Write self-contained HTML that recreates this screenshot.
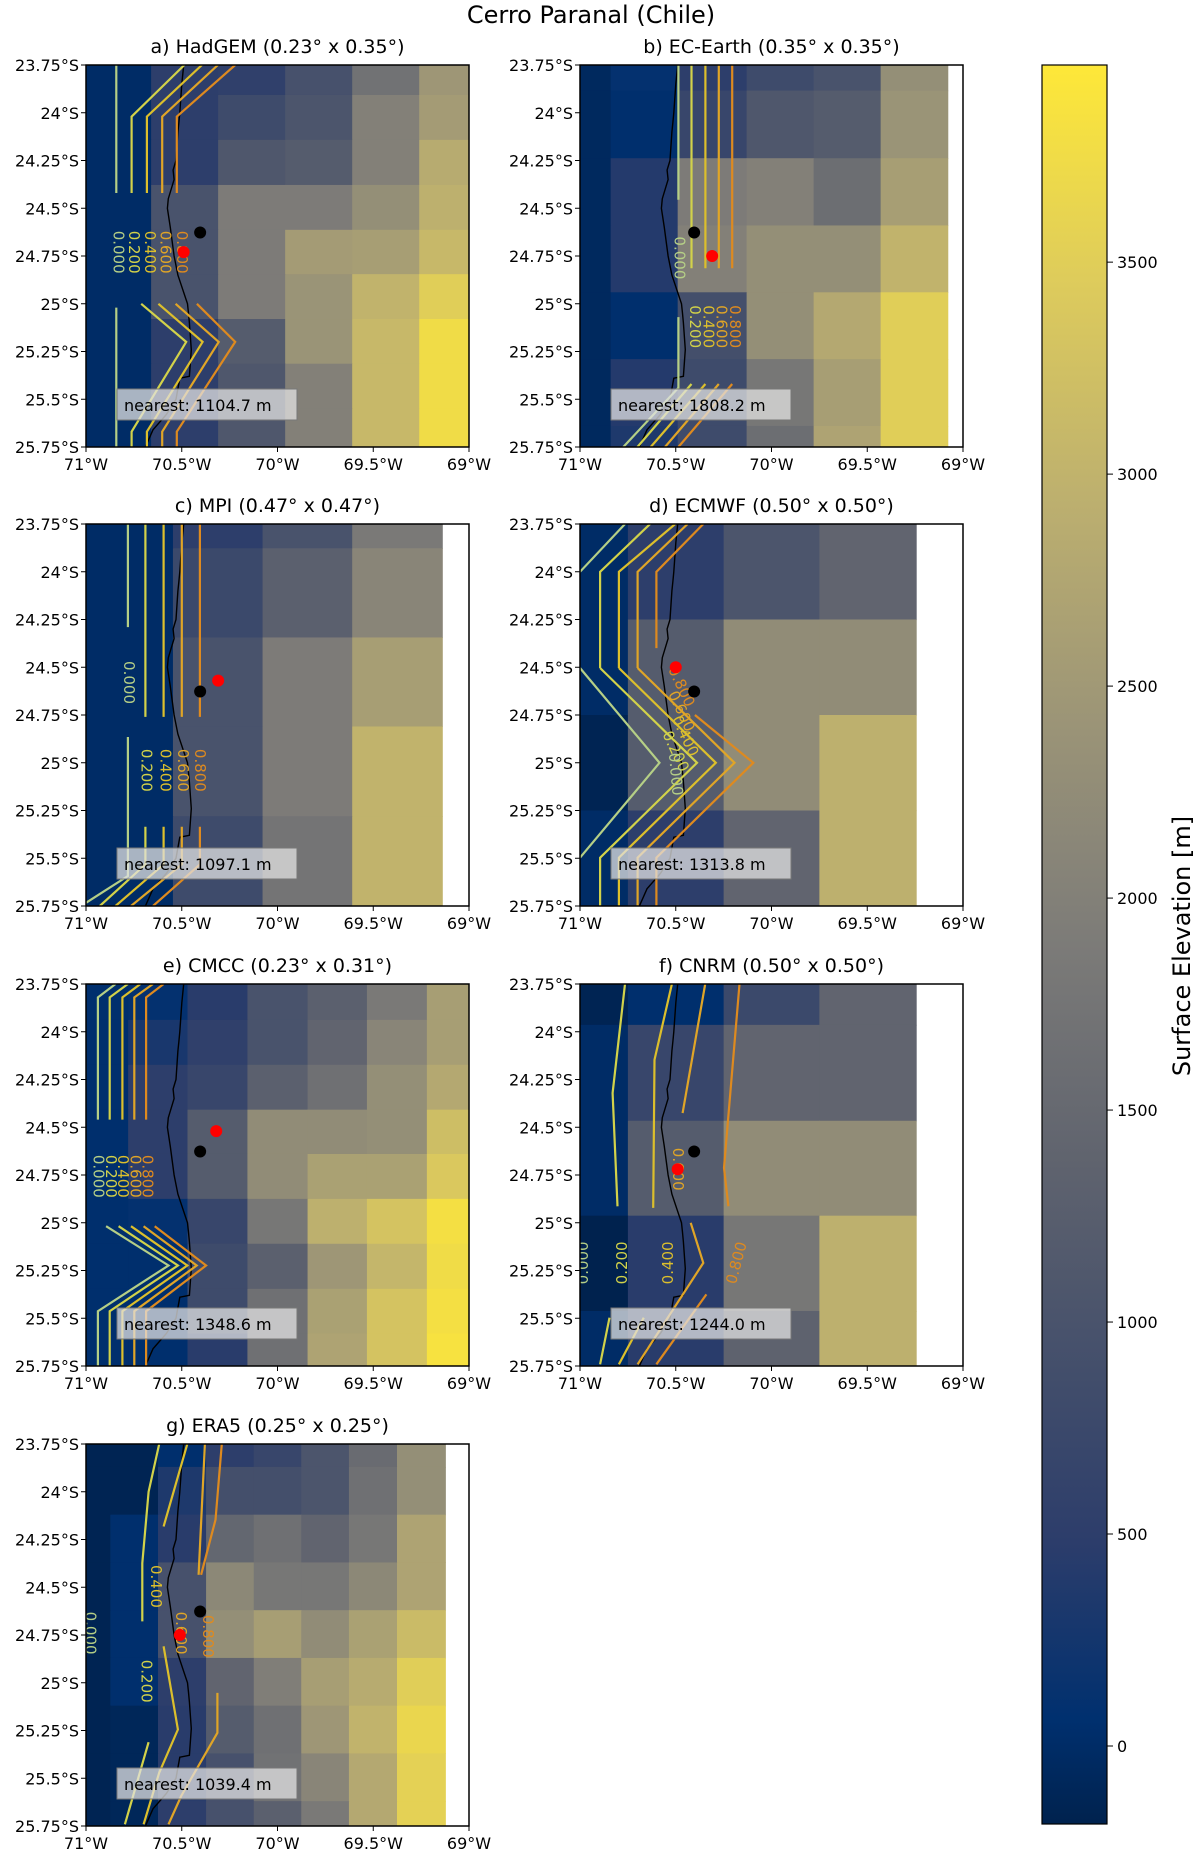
<!DOCTYPE html>
<html><head><meta charset="utf-8"><style>
html,body{margin:0;padding:0;background:#fff;}
svg{display:block;font-family:"DejaVu Sans","Liberation Sans",sans-serif;}
</style></head><body>
<svg id="fig" width="1200" height="1856" viewBox="0 0 1200 1856" xmlns="http://www.w3.org/2000/svg">
<defs>
<linearGradient id="cbgrad" x1="0" y1="1" x2="0" y2="0"></linearGradient>
</defs>
<text x="591" y="23" text-anchor="middle" font-size="24" fill="#000">Cerro Paranal (Chile)</text>
</svg>
<script>
// ---------- data ----------
const vmin = -184, vmax = 3965;
const cbTicks = [0, 500, 1000, 1500, 2000, 2500, 3000, 3500];
const xTickVals = [-71, -70.5, -70, -69.5, -69];
const xTickLabels = ["71°W", "70.5°W", "70°W", "69.5°W", "69°W"];
const yTickVals = [-23.75, -24, -24.25, -24.5, -24.75, -25, -25.25, -25.5, -25.75];
const yTickLabels = ["23.75°S", "24°S", "24.25°S", "24.5°S", "24.75°S", "25°S", "25.25°S", "25.5°S", "25.75°S"];
const levelNames = ["0.000", "0.200", "0.400", "0.600", "0.800"];
const site = [-70.404, -24.627];
const coast = [[-70.49,-23.75],[-70.50,-23.85],[-70.51,-24.0],[-70.515,-24.05],[-70.52,-24.1],[-70.53,-24.25],[-70.545,-24.3],[-70.54,-24.35],[-70.57,-24.45],[-70.575,-24.5],[-70.56,-24.6],[-70.54,-24.75],[-70.52,-24.85],[-70.47,-25.0],[-70.465,-25.05],[-70.46,-25.1],[-70.45,-25.24],[-70.46,-25.38],[-70.51,-25.39],[-70.53,-25.5],[-70.58,-25.58],[-70.65,-25.66],[-70.69,-25.75]];

// a) HadGEM
const aLon = [-71,-70.66,-70.31,-69.96,-69.61,-69.26,-69];
const aLat = [-23.75,-23.907,-24.142,-24.378,-24.613,-24.845,-25.08,-25.314,-25.55,-25.75];
const aElev = [
 [0,500,550,950,1700,2450],[0,500,800,1050,2000,2550],[0,500,1100,1200,2000,2850],
 [0,1000,1900,1900,2300,2950],[0,1000,1900,2550,2600,3100],[0,1000,1900,2400,3000,3500],
 [0,500,1200,2400,3100,3750],[0,500,1100,2000,3100,3750],[0,500,1100,2000,3100,3750]];
const aRed = [-70.49,-24.73];
const aNearest = "nearest: 1104.7 m";
const aContours = [
 [0,[[-70.842,-23.75],[-70.842,-24.42]]],[1,[[-70.762,-24.42],[-70.762,-24.02],[-70.486,-23.75]]],
 [2,[[-70.682,-24.42],[-70.682,-24.02],[-70.395,-23.75]]],[3,[[-70.602,-24.42],[-70.602,-24.02],[-70.311,-23.75]]],
 [4,[[-70.526,-24.42],[-70.526,-24.02],[-70.221,-23.75]]],
 [0,[[-70.842,-25.02],[-70.842,-25.75]]],[1,[[-70.712,-25.0],[-70.477,-25.2],[-70.762,-25.67],[-70.762,-25.75]]],
 [2,[[-70.622,-25.0],[-70.391,-25.2],[-70.682,-25.67],[-70.682,-25.75]]],[3,[[-70.532,-25.0],[-70.307,-25.2],[-70.602,-25.67],[-70.602,-25.75]]],
 [4,[[-70.421,-25.0],[-70.221,-25.2],[-70.526,-25.67],[-70.526,-25.75]]]];
const aLabels = [[0,-70.83,-24.73,90],[1,-70.75,-24.73,90],[2,-70.665,-24.73,90],[3,-70.585,-24.73,90],[4,-70.50,-24.73,90]];

// b) EC-Earth
const bLon = [-71,-70.84,-70.49,-70.13,-69.78,-69.43,-69.08];
const bLat = [-23.75,-23.884,-24.238,-24.59,-24.94,-25.29,-25.64,-25.75];
const bElev = [
 [-60,100,500,800,1000,2300],[-60,50,700,1100,1200,2400],[-60,400,1900,2000,1600,2600],
 [-60,400,2000,2300,2300,3000],[-60,50,900,2300,2800,3500],[-60,400,800,1800,2600,3500],[-60,350,800,1600,2700,3500]];
const bRed = [-70.31,-24.75];
const bNearest = "nearest: 1808.2 m";
const bContours = [
 [0,[[-70.486,-23.75],[-70.486,-24.456]]],[1,[[-70.418,-23.75],[-70.418,-24.814]]],
 [2,[[-70.345,-23.75],[-70.345,-24.814]]],[3,[[-70.275,-23.75],[-70.275,-24.814]]],[4,[[-70.205,-23.75],[-70.205,-24.814]]],
 [0,[[-70.486,-25.07],[-70.486,-25.44],[-70.774,-25.75]]],[1,[[-70.418,-25.42],[-70.70,-25.75]]],
 [2,[[-70.345,-25.42],[-70.631,-25.75]]],[3,[[-70.275,-25.42],[-70.556,-25.75]]],[4,[[-70.205,-25.42],[-70.486,-25.75]]]];
const bLabels = [[0,-70.48,-24.76,90],[1,-70.40,-25.12,90],[2,-70.33,-25.12,90],[3,-70.26,-25.12,90],[4,-70.19,-25.12,90]];

// c) MPI
const cLon = [-71,-70.546,-70.078,-69.61,-69.14];
const cLat = [-23.75,-23.877,-24.344,-24.81,-25.28,-25.75];
const cElev = [[0,500,1000,1850],[0,750,1300,2100],[0,1000,1900,2600],[0,1000,1900,3000],[0,800,1750,3000]];
const cRed = [-70.31,-24.57];
const cNearest = "nearest: 1097.1 m";
const cContours = [
 [0,[[-70.781,-23.75],[-70.781,-24.29]]],[1,[[-70.69,-23.75],[-70.69,-24.76]]],[2,[[-70.595,-23.75],[-70.595,-24.76]]],
 [3,[[-70.5,-23.75],[-70.5,-24.76]]],[4,[[-70.405,-23.75],[-70.405,-24.76]]],
 [0,[[-70.781,-24.865],[-70.781,-25.593],[-71,-25.733]]],[1,[[-70.69,-25.335],[-70.69,-25.532],[-70.928,-25.75]]],
 [2,[[-70.595,-25.335],[-70.595,-25.532],[-70.846,-25.75]]],[3,[[-70.5,-25.335],[-70.5,-25.532],[-70.765,-25.75]]],
 [4,[[-70.405,-25.335],[-70.405,-25.532],[-70.65,-25.75]]]];
const cLabels = [[0,-70.775,-24.58,90],[1,-70.683,-25.04,90],[2,-70.585,-25.04,90],[3,-70.493,-25.04,90],[4,-70.405,-25.04,90]];

// d) ECMWF
const dLon = [-71,-70.75,-70.25,-69.75,-69.245];
const dLat = [-23.75,-24.25,-24.75,-25.25,-25.75];
const dElev = [[0,500,1050,1400],[0,1200,2250,2250],[-150,1200,2250,2950],[0,500,1400,2950]];
const dRed = [-70.50,-24.50];
const dNearest = "nearest: 1313.8 m";
const dContours = [
 [0,[[-71,-24.0],[-70.765,-23.75]]],[1,[[-70.895,-24.504],[-70.895,-24.0],[-70.634,-23.75]]],
 [2,[[-70.797,-24.504],[-70.797,-24.0],[-70.503,-23.75]]],[3,[[-70.699,-24.504],[-70.699,-24.0],[-70.438,-23.75]]],
 [4,[[-70.601,-24.40],[-70.601,-24.0],[-70.356,-23.75]]],
 [0,[[-71,-24.504],[-70.585,-25.0],[-71,-25.497]]],[1,[[-70.895,-24.504],[-70.389,-25.0],[-70.895,-25.497],[-70.895,-25.75]]],
 [2,[[-70.797,-24.504],[-70.291,-25.0],[-70.797,-25.497],[-70.797,-25.75]]],[3,[[-70.699,-24.504],[-70.193,-25.0],[-70.699,-25.497],[-70.699,-25.75]]],
 [4,[[-70.40,-24.75],[-70.095,-25.0],[-70.601,-25.497],[-70.601,-25.75]]]];
const dLabels = [[4,-70.47,-24.6,65],[3,-70.47,-24.73,65],[2,-70.45,-24.86,65],[1,-70.50,-24.94,65],[0,-70.50,-25.06,85]];

// e) CMCC
const eLon = [-71,-70.78,-70.47,-70.157,-69.843,-69.533,-69.22,-69];
const eLat = [-23.75,-23.938,-24.173,-24.408,-24.64,-24.875,-25.11,-25.346,-25.58,-25.75];
const eElev = [
 [50,100,450,1000,1300,1850,2600],[50,300,550,1000,1400,2100,2600],[50,500,700,1300,1650,2300,2800],
 [50,500,1200,2250,2250,2300,3200],[50,500,1200,2250,2650,2650,3400],[50,100,700,1800,2950,3300,3800],
 [50,50,800,1300,2450,3050,3750],[50,50,800,1650,2650,3300,3800],[50,50,450,1650,2700,3300,3850]];
const eRed = [-70.32,-24.52];
const eNearest = "nearest: 1348.6 m";
const eContours = [
 [0,[[-70.938,-24.46],[-70.938,-23.82],[-70.846,-23.75]]],[1,[[-70.876,-24.46],[-70.876,-23.82],[-70.781,-23.75]]],
 [2,[[-70.81,-24.46],[-70.81,-23.82],[-70.716,-23.75]]],[3,[[-70.748,-24.46],[-70.748,-23.82],[-70.65,-23.75]]],
 [4,[[-70.686,-24.46],[-70.686,-23.82],[-70.595,-23.75]]],
 [0,[[-70.895,-25.018],[-70.569,-25.224],[-70.938,-25.463],[-70.938,-25.75]]],[1,[[-70.83,-25.018],[-70.52,-25.224],[-70.876,-25.463],[-70.876,-25.75]]],
 [2,[[-70.765,-25.018],[-70.471,-25.224],[-70.81,-25.463],[-70.81,-25.75]]],[3,[[-70.699,-25.018],[-70.422,-25.224],[-70.748,-25.463],[-70.748,-25.75]]],
 [4,[[-70.641,-25.018],[-70.373,-25.224],[-70.686,-25.463],[-70.686,-25.75]]]];
const eLabels = [[0,-70.935,-24.757,90],[1,-70.87,-24.757,90],[2,-70.807,-24.757,90],[3,-70.742,-24.757,90],[4,-70.68,-24.757,90]];

// f) CNRM
const fLon = [-71,-70.75,-70.25,-69.75,-69.245];
const fLat = [-23.75,-23.964,-24.466,-24.963,-25.462,-25.75];
const fElev = [[-150,50,750,1400],[0,700,1400,1400],[0,1200,2250,2250],[-200,450,1800,2950],[0,450,1350,2950]];
const fRed = [-70.49,-24.72];
const fNearest = "nearest: 1244.0 m";
const fContours = [
 [1,[[-70.765,-23.75],[-70.83,-24.321],[-70.804,-24.914]]],[2,[[-70.52,-23.75],[-70.611,-24.147],[-70.618,-24.922]]],
 [3,[[-70.346,-23.75],[-70.464,-24.426]]],[4,[[-70.167,-23.75],[-70.248,-24.713],[-70.225,-24.914]]],
 [1,[[-70.846,-25.497],[-70.895,-25.741]]],[2,[[-70.667,-25.497],[-70.797,-25.741]]],
 [3,[[-70.422,-25.0],[-70.356,-25.21],[-70.699,-25.741]]],[4,[[-70.34,-25.375],[-70.601,-25.741]]]];
const fLabels = [[0,-70.985,-25.21,-90],[1,-70.78,-25.21,-90],[2,-70.54,-25.21,-90],[4,-70.183,-25.21,-75],[3,-70.487,-24.72,90]];

// g) ERA5
const gLon = [-71,-70.873,-70.624,-70.373,-70.124,-69.876,-69.627,-69.376,-69.124];
const gLat = [-23.75,-23.87,-24.12,-24.37,-24.62,-24.87,-25.12,-25.37,-25.62,-25.75];
const gElev = [
 [-150,-150,50,500,700,1050,1550,2300],[-150,-150,350,900,900,1050,1650,2300],[-150,50,450,1450,1650,1400,1800,2700],
 [-150,50,950,2150,1800,1800,2150,2700],[-150,50,950,2300,2600,2250,2650,3150],[-150,50,500,1400,1950,2600,2850,3500],
 [-150,-100,450,1200,1650,2450,3000,3650],[-150,-100,450,950,1700,2100,2800,3550],[-150,-100,500,950,1300,1850,2800,3550]];
const gRed = [-70.51,-24.75];
const gNearest = "nearest: 1039.4 m";
const gContours = [
 [1,[[-70.618,-23.75],[-70.673,-24.0],[-70.706,-24.374],[-70.706,-24.679]]],[1,[[-70.673,-25.311],[-70.797,-25.741]]],
 [2,[[-70.471,-23.75],[-70.595,-24.182]]],[2,[[-70.595,-24.809],[-70.52,-25.245],[-70.618,-25.471],[-70.699,-25.741]]],
 [3,[[-70.379,-23.75],[-70.412,-24.435]]],[3,[[-70.314,-25.053],[-70.314,-25.262],[-70.503,-25.593],[-70.569,-25.741]]],
 [4,[[-70.291,-23.75],[-70.324,-24.147],[-70.399,-24.435]]]];
const gLabels = [[2,-70.634,-24.496,90],[1,-70.683,-24.992,90],[3,-70.503,-24.74,90],[4,-70.363,-24.757,90],[0,-70.977,-24.74,90]];

// ---------- rendering ----------
const levelColors = ["#b5cf86","#d2d24a","#dcbf2c","#e0a527","#de8a1f"];
const cmapStops = [[0,0,34,78],[0.06,0,48,111],[0.16,44,61,107],[0.25,65,77,107],[0.375,95,99,110],[0.5,124,123,120],[0.625,155,148,119],[0.75,188,175,111],[0.875,221,203,92],[1,254,232,56]];
function cmap(v){
  let t=(v-vmin)/(vmax-vmin); t=Math.max(0,Math.min(1,t));
  for(let i=1;i<cmapStops.length;i++){
    const a=cmapStops[i-1], b=cmapStops[i];
    if(t<=b[0]){const f=(t-a[0])/(b[0]-a[0]);
      return `rgb(${Math.round(a[1]+f*(b[1]-a[1]))},${Math.round(a[2]+f*(b[2]-a[2]))},${Math.round(a[3]+f*(b[3]-a[3]))})`;}
  }
  return "rgb(254,232,56)";
}
const NS="http://www.w3.org/2000/svg";
const svg=document.getElementById("fig");
function el(tag,attrs,parent){const e=document.createElementNS(NS,tag);for(const k in attrs)e.setAttribute(k,attrs[k]);(parent||svg).appendChild(e);return e;}

const panels=[
 {id:"a",title:"a) HadGEM (0.23° x 0.35°)",L:86,T:65,lon:aLon,lat:aLat,elev:aElev,red:aRed,near:aNearest,cont:aContours,labs:aLabels},
 {id:"b",title:"b) EC-Earth (0.35° x 0.35°)",L:580,T:65,lon:bLon,lat:bLat,elev:bElev,red:bRed,near:bNearest,cont:bContours,labs:bLabels},
 {id:"c",title:"c) MPI (0.47° x 0.47°)",L:86,T:524,lon:cLon,lat:cLat,elev:cElev,red:cRed,near:cNearest,cont:cContours,labs:cLabels},
 {id:"d",title:"d) ECMWF (0.50° x 0.50°)",L:580,T:524,lon:dLon,lat:dLat,elev:dElev,red:dRed,near:dNearest,cont:dContours,labs:dLabels},
 {id:"e",title:"e) CMCC (0.23° x 0.31°)",L:86,T:984,lon:eLon,lat:eLat,elev:eElev,red:eRed,near:eNearest,cont:eContours,labs:eLabels},
 {id:"f",title:"f) CNRM (0.50° x 0.50°)",L:580,T:984,lon:fLon,lat:fLat,elev:fElev,red:fRed,near:fNearest,cont:fContours,labs:fLabels},
 {id:"g",title:"g) ERA5 (0.25° x 0.25°)",L:86,T:1444,lon:gLon,lat:gLat,elev:gElev,red:gRed,near:gNearest,cont:gContours,labs:gLabels}];
const W=383,H=382;
const defs=svg.querySelector("defs");

panels.forEach(p=>{
  const X=lon=>p.L+(lon+71)/2*W;
  const Y=lat=>p.T+(-23.75-lat)/2*H;
  const g=el("g",{});
  
  
  const cp=el("clipPath",{id:"clip"+p.id},defs);
  el("rect",{x:p.L,y:p.T,width:W,height:H},cp);
  const t=el("text",{x:p.L+W/2,y:p.T-12,"text-anchor":"middle","font-size":"19",fill:"#000"},g);
  t.textContent=p.title;
  
  
  const body=el("g",{"clip-path":`url(#clip${p.id})`},g);
  for(let r=0;r<p.elev.length;r++){
    for(let c=0;c<p.elev[r].length;c++){
      const x0=X(p.lon[c]),x1=X(p.lon[c+1]),y0=Y(p.lat[r]),y1=Y(p.lat[r+1]);
      const rc=el("rect",{x:x0.toFixed(2),y:y0.toFixed(2),width:(x1-x0+0.6).toFixed(2),height:(y1-y0+0.6).toFixed(2),fill:cmap(p.elev[r][c])},body);
      
      
    }
  }
  const cl=el("polyline",{points:coast.map(q=>X(q[0]).toFixed(1)+","+Y(q[1]).toFixed(1)).join(" "),fill:"none",stroke:"#000","stroke-width":"1.4"},body);
  
  
  p.cont.forEach(cn=>{
    const pl=el("polyline",{points:cn[1].map(q=>X(q[0]).toFixed(1)+","+Y(q[1]).toFixed(1)).join(" "),fill:"none",stroke:levelColors[cn[0]],"stroke-width":"2.2"},body);
    
    
  });
  p.labs.forEach(lb=>{
    const x=X(lb[1]),y=Y(lb[2]);
    const tx=el("text",{x:x,y:y,"text-anchor":"middle","dominant-baseline":"central","font-size":"15",fill:levelColors[lb[0]],transform:`rotate(${lb[3]} ${x} ${y})`},body);
    tx.textContent=levelNames[lb[0]];
    
    
  });
  const bd=el("circle",{cx:X(site[0]),cy:Y(site[1]),r:6,fill:"#000"},body);
  
  
  const rd=el("circle",{cx:X(p.red[0]),cy:Y(p.red[1]),r:6,fill:"#ff0000"},body);
  
  
  const bx=el("rect",{x:p.L+31,y:p.T+H-58,width:180,height:31,fill:"rgba(225,225,225,0.75)",stroke:"#777","stroke-width":"1"},g);
  
  
  const nt=el("text",{x:p.L+38,y:p.T+H-36,"font-size":"16",fill:"#000"},g);
  nt.textContent=p.near;
  
  
  const fr=el("rect",{x:p.L,y:p.T,width:W,height:H,fill:"none",stroke:"#000","stroke-width":"1.5"},g);
  
  
  yTickVals.forEach((v,i)=>{
    const y=Y(v);
    el("line",{x1:p.L-5,x2:p.L,y1:y,y2:y,stroke:"#000","stroke-width":"1"},g);
    const tl=el("text",{x:p.L-7,y:y+6,"text-anchor":"end","font-size":"16",fill:"#000"},g);
    tl.textContent=yTickLabels[i];
    
    
  });
  xTickVals.forEach((v,i)=>{
    const x=X(v);
    el("line",{x1:x,x2:x,y1:p.T+H,y2:p.T+H+5,stroke:"#000","stroke-width":"1"},g);
    const tl=el("text",{x:x,y:p.T+H+23,"text-anchor":"middle","font-size":"16",fill:"#000"},g);
    tl.textContent=xTickLabels[i];
    
    
  });
});

const cbL=1042,cbR=1107,cbT=65,cbB=1824;
const grad=document.getElementById("cbgrad");
cmapStops.forEach(s=>{el("stop",{offset:s[0],"stop-color":`rgb(${s[1]},${s[2]},${s[3]})`},grad);});
const cb=el("rect",{x:cbL,y:cbT,width:cbR-cbL,height:cbB-cbT,fill:"url(#cbgrad)",stroke:"#000","stroke-width":"1.2"});


const CY=v=>cbB-(v-vmin)/(vmax-vmin)*(cbB-cbT);
cbTicks.forEach(v=>{
  const y=CY(v);
  el("line",{x1:cbR,x2:cbR+6,y1:y,y2:y,stroke:"#000","stroke-width":"1"});
  const tl=el("text",{x:cbR+10,y:y+6,"font-size":"16",fill:"#000"});
  tl.textContent=String(v);
  
  
});
const ct=el("text",{x:1190,y:946,"text-anchor":"middle","font-size":"24",fill:"#000",transform:"rotate(-90 1190 946)"});
ct.textContent="Surface Elevation [m]";


</script>
</body></html>
